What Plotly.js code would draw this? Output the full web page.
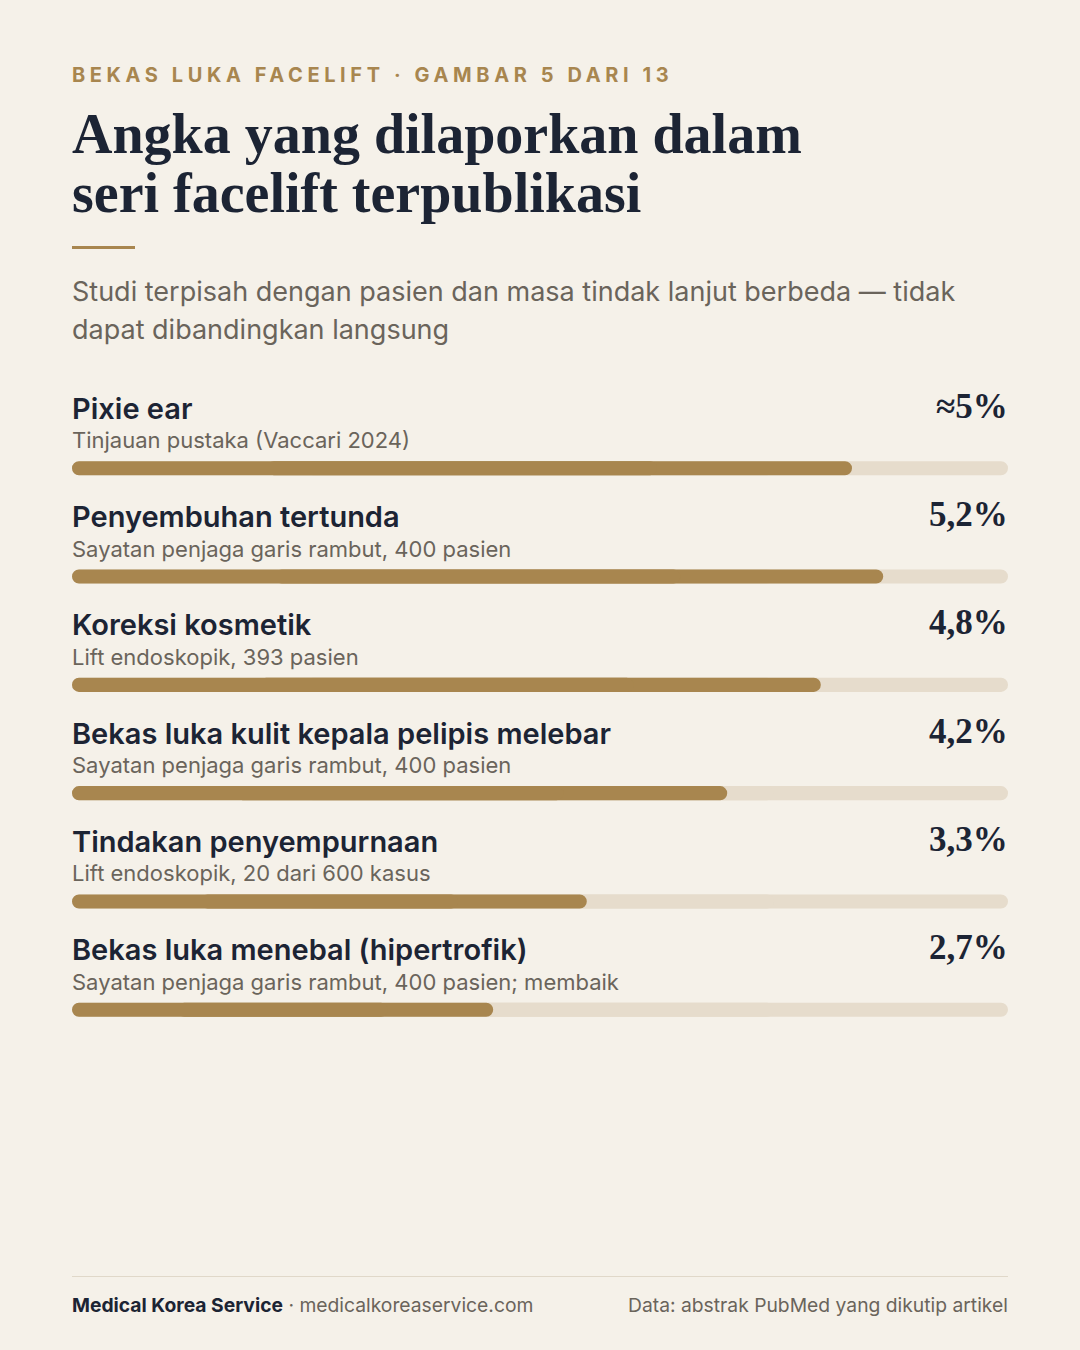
<!DOCTYPE html>
<html>
<head>
<meta charset="utf-8">
<script src="https://cdn.plot.ly/plotly-3.0.1.min.js"></script>
<style>
  html, body { margin: 0; padding: 0; background: #f5f1e9; }
  #chart { width: 1080px; height: 1350px; }
</style>
</head>
<body>
<div id="chart"></div>
<script>
// ---- data ----
const categories = [
  "Pixie ear",
  "Penyembuhan tertunda",
  "Koreksi kosmetik",
  "Bekas luka kulit kepala pelipis melebar",
  "Tindakan penyempurnaan",
  "Bekas luka menebal (hipertrofik)"
];
const notes = [
  "Tinjauan pustaka (Vaccari 2024)",
  "Sayatan penjaga garis rambut, 400 pasien",
  "Lift endoskopik, 393 pasien",
  "Sayatan penjaga garis rambut, 400 pasien",
  "Lift endoskopik, 20 dari 600 kasus",
  "Sayatan penjaga garis rambut, 400 pasien; membaik"
];
const values = [5.0, 5.2, 4.8, 4.2, 3.3, 2.7];
const valueLabels = ["≈5%", "5,2%", "4,8%", "4,2%", "3,3%", "2,7%"];
const scaleMax = 6;

const eyebrow = "BEKAS LUKA FACELIFT · GAMBAR 5 DARI 13";
const titleLines = ["Angka yang dilaporkan dalam", "seri facelift terpublikasi"];
const subtitleLines = ["Studi terpisah dengan pasien dan masa tindak lanjut berbeda — tidak", "dapat dibandingkan langsung"];
const footerLeftBold = "Medical Korea Service";
const footerLeftRest = " · medicalkoreaservice.com";
const footerRight = "Data: abstrak PubMed yang dikutip artikel";

// ---- style ----
const BG = "#f5f1e9";
const GOLD = "#a8864f";
const TRACK = "#e6dccc";
const INK = "#1c2434";
const MUTED = "#6a645b";
const SANS = "Inter, 'Noto Sans', sans-serif";
const SERIF = "'Liberation Serif', 'DejaVu Serif', serif";

const W = 1080, H = 1350;
const M = {l: 72, r: 72, t: 360, b: 232};
const PH = H - M.t - M.b;
function py(pixelY) { return (H - M.b - pixelY) / PH; }   // page pixel -> paper y
function px(pixelX) { return (pixelX - M.l) / (W - M.l - M.r); }
const LX = -2, RX = 2;  // compensate annotation padding

const idx = categories.map((_, i) => i);

// Each bar is drawn as two overlapping pieces: one grows rightwards to the
// value (rounded right end), one grows leftwards to zero (rounded left end).
function roundedBars(vals, color) {
  const common = {
    type: "bar", orientation: "h", y: idx, width: 0.13,
    marker: {color: color, cornerradius: 7, line: {width: 0}},
    hoverinfo: "skip", showlegend: false
  };
  return [
    Object.assign({}, common, {base: vals.map(v => v * 0.25), x: vals.map(v => v * 0.75)}),
    Object.assign({}, common, {base: vals.map(v => v * 0.75), x: vals.map(v => -v * 0.75)})
  ];
}
const trackVals = categories.map(() => scaleMax);
const traces = [].concat(roundedBars(trackVals, TRACK), roundedBars(values, GOLD));

const annotations = [];
categories.forEach((c, i) => {
  annotations.push({
    xref: "paper", yref: "y", x: 0, y: i, yshift: 60, xshift: LX,
    xanchor: "left", yanchor: "middle", showarrow: false,
    text: c, font: {family: SANS, size: 29, color: INK, weight: 600}
  });
  annotations.push({
    xref: "paper", yref: "y", x: 0, y: i, yshift: 28, xshift: LX,
    xanchor: "left", yanchor: "middle", showarrow: false,
    text: notes[i], font: {family: SANS, size: 22, color: MUTED}
  });
  annotations.push({
    xref: "paper", yref: "y", x: 1, y: i, yshift: 62, xshift: RX,
    xanchor: "right", yanchor: "middle", showarrow: false,
    text: valueLabels[i], font: {family: SERIF, size: 35, color: INK, weight: 700}
  });
});

// header
annotations.push({
  xref: "paper", yref: "paper", x: 0, y: py(75), xshift: LX,
  xanchor: "left", yanchor: "middle", showarrow: false,
  text: eyebrow, font: {family: SANS, size: 20, color: GOLD, weight: 700}
});
titleLines.forEach((t, k) => {
  annotations.push({
    xref: "paper", yref: "paper", x: 0, y: py(134 + 59 * k), xshift: LX,
    xanchor: "left", yanchor: "middle", showarrow: false,
    text: "<b>" + t + "</b>", font: {family: SERIF, size: 56, color: INK}
  });
});
subtitleLines.forEach((t, k) => {
  annotations.push({
    xref: "paper", yref: "paper", x: 0, y: py(291 + 38 * k), xshift: LX,
    xanchor: "left", yanchor: "middle", showarrow: false,
    text: t, font: {family: SANS, size: 27, color: MUTED}
  });
});

// footer
annotations.push({
  xref: "paper", yref: "paper", x: 0, y: py(1305), xshift: LX,
  xanchor: "left", yanchor: "middle", showarrow: false,
  text: "<b>" + footerLeftBold + "</b><span style='color:" + MUTED + "'>" + footerLeftRest + "</span>",
  font: {family: SANS, size: 19.3, color: INK}
});
annotations.push({
  xref: "paper", yref: "paper", x: 1, y: py(1305), xshift: RX,
  xanchor: "right", yanchor: "middle", showarrow: false,
  text: footerRight, font: {family: SANS, size: 19.3, color: MUTED}
});

const shapes = [
  {type: "line", xref: "paper", yref: "paper", x0: 0, x1: px(135), y0: py(247.5), y1: py(247.5),
   line: {color: GOLD, width: 3}},
  {type: "line", xref: "paper", yref: "paper", x0: 0, x1: 1, y0: py(1276.5), y1: py(1276.5),
   line: {color: "#e0d8c9", width: 1}}
];

const layout = {
  width: W, height: H,
  paper_bgcolor: BG, plot_bgcolor: BG,
  margin: M,
  barmode: "overlay",
  showlegend: false,
  xaxis: {range: [0, scaleMax], visible: false, fixedrange: true},
  yaxis: {range: [6, -1], visible: false, fixedrange: true},
  annotations: annotations,
  shapes: shapes,
  font: {family: SANS}
};

Plotly.newPlot("chart", traces, layout, {displayModeBar: false, staticPlot: true}).then(function(gd) {
  const texts = gd.querySelectorAll(".annotation-text");
  texts.forEach(function(t) {
    if (t.textContent === eyebrow) {
      const bb0 = t.getBBox();
      t.setAttribute("letter-spacing", "4.6px");
      t.setAttribute("text-anchor", "start");
      t.setAttribute("x", bb0.x);
      t.querySelectorAll("tspan").forEach(function(s) {
        if (s.hasAttribute("x")) s.setAttribute("x", bb0.x);
      });
    }
  });
});
</script>
</body>
</html>
